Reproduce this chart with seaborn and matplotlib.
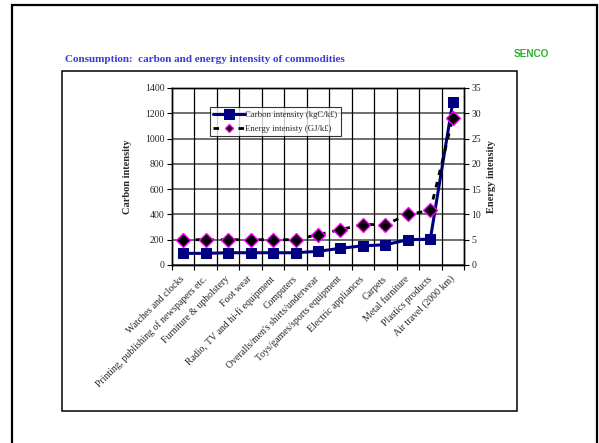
import numpy as np
import pandas as pd
import matplotlib
matplotlib.use("Agg")
import matplotlib.pyplot as plt
import seaborn as sns
from matplotlib.patches import Rectangle

# -- data --------------------------------------------------------------
categories = [
    "Watches and clocks",
    "Printing, publishing of newspapers etc.",
    "Furniture & upholstery",
    "Foot wear",
    "Radio, TV and hi-fi equipment",
    "Computers",
    "Overalls/men's shirts/underwear",
    "Toys/games/sports equipment",
    "Electric appliances",
    "Carpets",
    "Metal furniture",
    "Plastics products",
    "Air travel (2000 km)",
]
carbon = [92, 92, 97, 97, 97, 97, 108, 132, 152, 160, 200, 204, 1288]
energy = [5, 5, 5, 5, 5, 5, 6, 7, 8, 8, 10, 10.8, 29]
left_ticks = list(range(0, 1401, 200))
right_ticks = list(range(0, 36, 5))

df = pd.DataFrame({"category": categories, "carbon": carbon, "energy": energy})

sns.set_style("white")
plt.rcParams["font.family"] = ["Liberation Serif", "DejaVu Serif"]

fig = plt.figure(figsize=(5.99, 4.43), dpi=100)
ax = fig.add_axes([172 / 599, 1 - 265 / 443, 292 / 599, 177 / 443])
ax2 = ax.twinx()

# carbon intensity (left axis)
sns.lineplot(data=df, x="category", y="carbon", sort=False, ax=ax,
             color="#000080", lw=2.2, marker="s", markersize=6.5,
             markeredgecolor="#000080", label="Carbon intensity (kgC/k£)",
             legend=False)
# energy intensity (right axis)
sns.lineplot(data=df, x="category", y="energy", sort=False, ax=ax2,
             color="black", lw=2.0, linestyle=(0, (2, 2.5)), marker="D",
             markersize=7, markerfacecolor="black", markeredgecolor="#FF00FF",
             markeredgewidth=1.0, label="Energy intenisty (GJ/k£)",
             legend=False)

n = len(categories)
ax.set_xlim(-0.5, n - 0.5)
ax.set_ylim(0, 1400)
ax2.set_ylim(0, 35)
ax.set_yticks(left_ticks)
ax2.set_yticks(right_ticks)

# grid: horizontal at y ticks, vertical at category boundaries
ax.set_xticks(np.arange(n))
ax.set_xticks(np.arange(-0.5, n), minor=True)
ax.grid(False)
ax2.grid(False)
for y in left_ticks:
    ax.axhline(y, color="#555555", lw=1.2, zorder=0)
for b in np.arange(0.5, n - 0.5):
    ax.axvline(b, color="black", lw=0.9, zorder=0)

ax.set_xticklabels(categories, rotation=45, ha="right", va="center",
                   rotation_mode="anchor", fontsize=7)
ax.tick_params(axis="x", which="major", length=0, pad=9)
ax.tick_params(axis="x", which="minor", length=3.5, width=0.8, direction="out",
               color="black", bottom=True)
ax.tick_params(axis="y", length=3.5, width=0.8, direction="out", labelsize=7,
               color="black", left=True, pad=2)
ax2.tick_params(axis="y", length=3.5, width=0.8, direction="out", labelsize=7,
                color="black", right=True, pad=2)

for a in (ax, ax2):
    for s in a.spines.values():
        s.set_color("black")
        s.set_linewidth(1.0)

ax.set_xlabel("")
ax.set_ylabel("Carbon intensity", fontsize=7.5, fontweight="bold", labelpad=9)
ax2.set_ylabel("Energy intensity", fontsize=7.5, fontweight="bold", labelpad=4)

h1, l1 = ax.get_legend_handles_labels()
h2, l2 = ax2.get_legend_handles_labels()
leg = ax2.legend(h1 + h2, l1 + l2, loc="upper left", bbox_to_anchor=(0.13, 0.89),
                 fontsize=6.3, frameon=True, fancybox=False, handlelength=3.6,
                 borderpad=0.35, labelspacing=0.7, handletextpad=0.1,
                 borderaxespad=0)
leg.get_frame().set_edgecolor("black")
leg.get_frame().set_linewidth(0.8)
# smaller marker for the energy legend entry, as in the reference
leg.legend_handles[1].set_markersize(4.5)

# slide furniture
fig.text(65 / 599, 1 - 60 / 443, "Consumption:  carbon and energy intensity of commodities",
         color="#3B3BD0", fontsize=8, fontweight="bold", va="center", ha="left")
fig.text(531 / 599, 1 - 54 / 443, "SENCO", color="#2DB02D", fontsize=7.2,
         fontweight="bold", family="Liberation Sans", va="center", ha="center")
fig.patches.append(Rectangle((12 / 599, -0.05), 585 / 599, 1.05 - 5 / 443,
                             transform=fig.transFigure, fill=False,
                             edgecolor="black", lw=1.6))
fig.patches.append(Rectangle((62 / 599, 1 - 411 / 443), 455 / 599, 340 / 443,
                             transform=fig.transFigure, fill=False,
                             edgecolor="black", lw=1.1))

fig.savefig("out.png", dpi=100)
